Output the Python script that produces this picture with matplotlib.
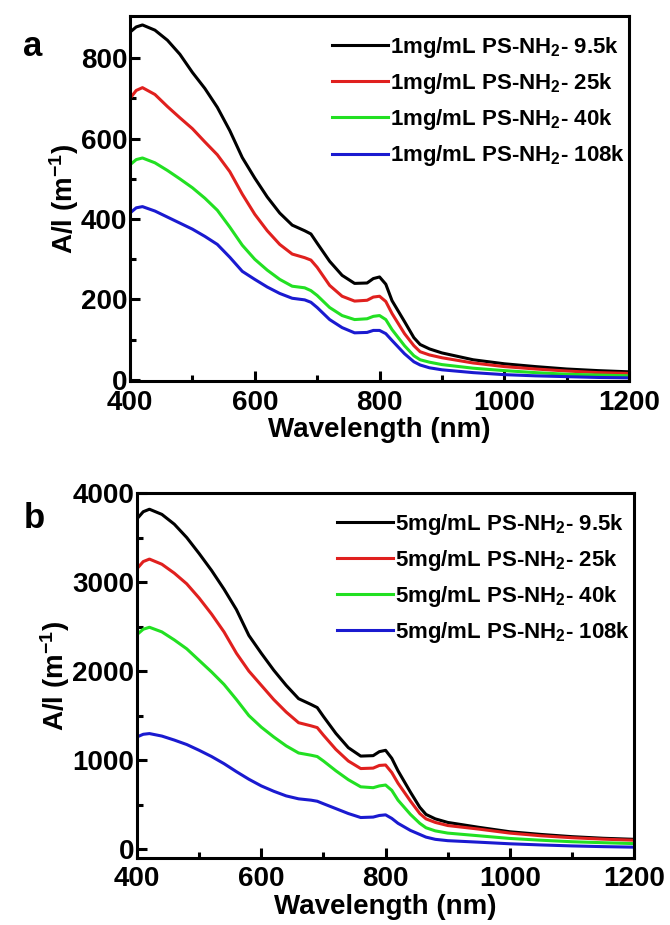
import matplotlib
matplotlib.use("Agg")
import matplotlib.pyplot as plt

plt.rcParams['font.family'] = ['Liberation Sans', 'DejaVu Sans']
plt.rcParams['font.weight'] = 'bold'
plt.rcParams['mathtext.fontset'] = 'custom'
plt.rcParams['mathtext.rm'] = 'Liberation Sans:bold'
plt.rcParams['mathtext.it'] = 'Liberation Sans:bold'
plt.rcParams['mathtext.bf'] = 'Liberation Sans:bold'
plt.rcParams['mathtext.default'] = 'rm'

wavelength = [400, 410, 420, 440, 460, 480, 500, 520, 540, 560, 580, 600, 620, 640,
              660, 680, 690, 700, 720, 740, 760, 780, 790, 800, 810, 820, 840, 855,
              865, 880, 900, 950, 1000, 1050, 1100, 1150, 1200]

a_9_5k = [865, 878, 883, 870, 845, 810, 765, 725, 678, 620, 553, 502, 455, 415,
          385, 371, 363, 340, 295, 260, 240, 241, 252, 256, 238, 197, 145, 105,
          88, 77, 67, 50, 40, 33, 27, 23, 20]
a_25k = [700, 720, 727, 710, 680, 652, 625, 592, 560, 518, 462, 412, 371, 337,
         313, 304, 298, 280, 235, 208, 196, 198, 206, 208, 195, 165, 115, 85,
         70, 62, 55, 42, 33, 27, 22, 18, 16]
a_40k = [535, 548, 552, 540, 521, 500, 478, 452, 422, 380, 335, 300, 273, 250,
         233, 229, 222, 210, 180, 160, 150, 152, 158, 160, 150, 125, 85, 60,
         50, 44, 38, 29, 23, 18, 14, 12, 10]
a_108k = [415, 428, 431, 420, 405, 390, 375, 357, 337, 305, 270, 250, 231, 215,
          203, 199, 193, 180, 150, 130, 117, 118, 123, 123, 115, 98, 65, 45,
          37, 30, 25, 18, 13, 10, 8, 6, 5]

b_9_5k = [3710, 3790, 3818, 3760, 3650, 3500, 3320, 3130, 2920, 2690, 2400, 2200, 2010, 1840,
          1690, 1625, 1590, 1490, 1300, 1140, 1045, 1050, 1095, 1110, 1020, 880, 640, 470,
          390, 340, 300, 245, 195, 165, 140, 122, 110]
b_25k = [3150, 3230, 3258, 3200, 3100, 2980, 2820, 2640, 2440, 2200, 2000, 1840, 1680, 1540,
         1420, 1385, 1365, 1280, 1120, 990, 905, 910, 940, 945, 860, 740, 540, 400,
         340, 300, 265, 225, 180, 150, 128, 112, 100]
b_40k = [2410, 2470, 2492, 2440, 2350, 2250, 2120, 1990, 1850, 1680, 1500, 1370, 1260, 1160,
         1080, 1055, 1040, 990, 880, 780, 700, 690, 710, 720, 660, 550, 390, 290,
         240, 205, 180, 150, 120, 100, 83, 72, 62]
b_108k = [1260, 1290, 1298, 1270, 1225, 1175, 1110, 1040, 960, 870, 785, 710, 650, 598,
          565, 550, 538, 510, 455, 400, 355, 360, 378, 385, 345, 290, 210, 165,
          135, 110, 95, 78, 60, 47, 36, 28, 22]

labels_a = ["1mg/mL PS-NH$_2$- 9.5k", "1mg/mL PS-NH$_2$- 25k",
            "1mg/mL PS-NH$_2$- 40k", "1mg/mL PS-NH$_2$- 108k"]
labels_b = ["5mg/mL PS-NH$_2$- 9.5k", "5mg/mL PS-NH$_2$- 25k",
            "5mg/mL PS-NH$_2$- 40k", "5mg/mL PS-NH$_2$- 108k"]
colors = ['#000000', '#e0201e', '#22e022', '#1a1ad0']

fig = plt.figure(figsize=(6.7, 9.25), dpi=100)
ax_a = fig.add_axes([0.194, 0.5876, 0.745, 0.395])
ax_b = fig.add_axes([0.2045, 0.0724, 0.742, 0.3946])

def style(ax, ylim, yticks, yminor):
    for s in ax.spines.values():
        s.set_linewidth(2.2)
    ax.set_xlim(400, 1200)
    ax.set_ylim(*ylim)
    ax.set_xticks([400, 600, 800, 1000, 1200])
    ax.set_xticks([500, 700, 900, 1100], minor=True)
    ax.set_yticks(yticks)
    ax.set_yticks(yminor, minor=True)
    ax.tick_params(which='both', direction='in', top=False, right=False,
                   labelsize=20, width=2.2)
    ax.tick_params(axis='x', which='major', pad=6)
    ax.tick_params(axis='y', which='major', pad=2)
    ax.tick_params(which='major', length=7)
    ax.tick_params(which='minor', length=4)
    for lab in ax.get_xticklabels() + ax.get_yticklabels():
        lab.set_fontweight('bold')
    ax.set_xlabel("Wavelength (nm)", fontsize=20, fontweight='bold', labelpad=1)
    ax.set_ylabel("A/l (m$^{-1}$)", fontsize=20, fontweight='bold', labelpad=0)

series_a = [a_9_5k, a_25k, a_40k, a_108k]
series_b = [b_9_5k, b_25k, b_40k, b_108k]

for ys, c, lab in zip(series_a, colors, labels_a):
    ax_a.plot(wavelength, ys, color=c, lw=2.2, label=lab)
for ys, c, lab in zip(series_b, colors, labels_b):
    ax_b.plot(wavelength, ys, color=c, lw=2.2, label=lab)

style(ax_a, (-4, 905), [0, 200, 400, 600, 800], [100, 300, 500, 700])
style(ax_b, (-100, 4000), [0, 1000, 2000, 3000, 4000], [500, 1500, 2500, 3500])

for ax in (ax_a, ax_b):
    ax.legend(loc='upper right', bbox_to_anchor=(1.03, 1.0), frameon=False,
              fontsize=16, handlelength=2.5, handletextpad=0.1,
              labelspacing=0.5, borderaxespad=0.45)

fig.text(0.035, 0.95, "a", fontsize=25, fontweight='bold', ha='left', va='center')
fig.text(0.035, 0.44, "b", fontsize=25, fontweight='bold', ha='left', va='center')

fig.savefig("out.png", dpi=100)
